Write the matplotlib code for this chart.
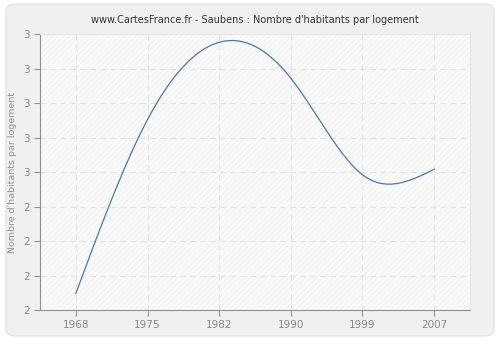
import numpy as np
import matplotlib
matplotlib.use('Agg')
import matplotlib.pyplot as plt
from matplotlib.patches import FancyBboxPatch
from matplotlib.ticker import FuncFormatter

# Données
annees = ['1968', '1975', '1982', '1990', '1999', '2007']
valeurs = [2.06, 2.69, 2.97, 2.84, 2.49, 2.51]
y_ticks = [2.0, 2.125, 2.25, 2.375, 2.5, 2.625, 2.75, 2.875, 3.0]


def spline_naturelle(x, y, n=300):
    # spline cubique naturelle
    x = np.asarray(x, float)
    y = np.asarray(y, float)
    k = len(x)
    h = np.diff(x)
    A = np.zeros((k, k))
    b = np.zeros(k)
    A[0, 0] = 1
    A[-1, -1] = 1
    for i in range(1, k - 1):
        A[i, i - 1] = h[i - 1]
        A[i, i] = 2 * (h[i - 1] + h[i])
        A[i, i + 1] = h[i]
        b[i] = 6 * ((y[i + 1] - y[i]) / h[i] - (y[i] - y[i - 1]) / h[i - 1])
    M = np.linalg.solve(A, b)
    xs = np.linspace(x[0], x[-1], n)
    ys = np.empty_like(xs)
    for j, t in enumerate(xs):
        i = min(np.searchsorted(x, t, side='right') - 1, k - 2)
        d = h[i]
        a = (x[i + 1] - t) / d
        c = (t - x[i]) / d
        ys[j] = (a * y[i] + c * y[i + 1]
                 + ((a ** 3 - a) * M[i] + (c ** 3 - c) * M[i + 1]) * d * d / 6)
    return xs, ys


idx = np.arange(len(annees))
xs, ys = spline_naturelle(idx, valeurs)

fig = plt.figure(figsize=(5, 3.4), dpi=100)
fig.patch.set_facecolor('white')
fond = FancyBboxPatch((0.012, 0.012), 0.976, 0.976,
                      boxstyle='round,pad=0,rounding_size=0.02',
                      transform=fig.transFigure, facecolor='#f0f0f0',
                      edgecolor='#e4e4e4', linewidth=1, zorder=-10)
fig.patches.append(fond)

ax = fig.add_axes([0.08, 0.088, 0.86, 0.812])
ax.set_facecolor('#fbfbfb')
ax.add_patch(plt.Rectangle((0, 0), 1, 1, transform=ax.transAxes,
                           facecolor='none', edgecolor='#f2f2f2',
                           hatch='//////', linewidth=0, zorder=0))

ax.plot(xs, ys, color='#4a77ad', linewidth=0.9, zorder=3)

ax.set_xlim(-0.5, len(annees) - 0.5)
ax.set_ylim(2.0, 3.0)
ax.set_xticks(idx)
ax.set_xticklabels(annees)
ax.set_yticks(y_ticks)
ax.yaxis.set_major_formatter(FuncFormatter(lambda v, p: str(int(np.floor(v + 0.5)))))

ax.grid(True, color='#e2e2e2', linestyle=(0, (5, 4)), linewidth=0.8, zorder=1)
ax.set_axisbelow(True)

for s in ['top', 'right']:
    ax.spines[s].set_color('#e6e6e6')
for s in ['left', 'bottom']:
    ax.spines[s].set_color('#909090')
ax.tick_params(colors='#909090', labelsize=7.5, length=4, width=0.8,
               labelcolor='#888888')

ax.set_ylabel("Nombre d'habitants par logement", fontsize=6.8, color='#909090')
ax.set_title("www.CartesFrance.fr - Saubens : Nombre d'habitants par logement",
             fontsize=7, color='#333333', pad=8)

fig.savefig('out.png', dpi=100)
